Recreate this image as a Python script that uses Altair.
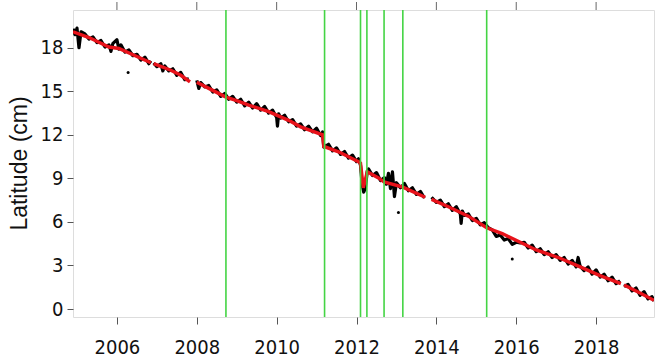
import altair as alt
import pandas as pd

# ---------------- data ----------------
# red smoothed curve (year, cm)
red_year = [2004.9, 2005.3, 2005.8, 2006.05, 2006.5, 2006.85,
            2006.92, 2007.35, 2007.6, 2007.83,
            2008.0, 2008.3, 2008.73, 2009.0, 2009.3, 2009.8, 2010.3, 2010.6, 2011.15, 2011.18,
            2011.55, 2012.05, 2012.1, 2012.17, 2012.27, 2012.55, 2012.69, 2013.16, 2013.72,
            2013.88, 2014.3, 2014.8, 2015.26, 2015.65, 2016.1, 2016.5, 2017.1, 2017.6, 2018.1, 2018.62,
            2018.7, 2019.1, 2019.45]
red_val = [19.1, 18.7, 18.05, 17.95, 17.4, 16.97,
           16.9, 16.45, 16.1, 15.65,
           15.62, 15.2, 14.6, 14.35, 14.05, 13.6, 13.0, 12.55, 12.0, 11.2,
           10.83, 10.14, 10.05, 8.35, 9.45, 9.03, 8.75, 8.4, 7.7,
           7.55, 7.05, 6.4, 5.6, 5.2, 4.6, 4.07, 3.5, 2.9, 2.3, 1.75,
           1.65, 1.1, 0.6]

# black observations (year, cm)
black_year = [
    2004.90, 2004.95, 2005.00, 2005.05, 2005.10, 2005.20, 2005.30, 2005.40, 2005.50, 2005.60,
    2005.70, 2005.80, 2005.85, 2005.90, 2006.00, 2006.05, 2006.10, 2006.20, 2006.30, 2006.40,
    2006.50, 2006.60, 2006.70, 2006.80, 2006.85,
    2006.92, 2007.00, 2007.10, 2007.15, 2007.20, 2007.30, 2007.40, 2007.50, 2007.60, 2007.70,
    2007.80,
    2008.00, 2008.05, 2008.10, 2008.20, 2008.30, 2008.40, 2008.50, 2008.60, 2008.70, 2008.80,
    2008.90, 2009.00, 2009.10, 2009.20, 2009.30, 2009.40, 2009.50, 2009.60, 2009.70, 2009.80,
    2009.90, 2010.00, 2010.02, 2010.05, 2010.10, 2010.20, 2010.30, 2010.40, 2010.50, 2010.60,
    2010.70, 2010.80, 2010.90, 2011.00, 2011.10, 2011.15, 2011.18, 2011.30, 2011.40, 2011.50,
    2011.60, 2011.70, 2011.80, 2011.90, 2012.00, 2012.05, 2012.10, 2012.14, 2012.18, 2012.22,
    2012.27, 2012.30, 2012.40, 2012.50, 2012.60, 2012.70, 2012.75, 2012.80, 2012.85, 2012.90,
    2012.95, 2013.00, 2013.10, 2013.20, 2013.30, 2013.40, 2013.50, 2013.60, 2013.70,
    2013.88, 2014.00, 2014.10, 2014.20, 2014.30, 2014.40, 2014.50, 2014.60, 2014.62, 2014.65,
    2014.70, 2014.80, 2014.90, 2015.00, 2015.10, 2015.20, 2015.30, 2015.40, 2015.50, 2015.60,
    2015.70, 2015.80, 2015.90, 2016.00, 2016.10, 2016.20, 2016.30, 2016.40, 2016.50, 2016.60,
    2016.70, 2016.80, 2016.90, 2017.00, 2017.10, 2017.20, 2017.30, 2017.40, 2017.50, 2017.55,
    2017.60, 2017.70, 2017.80, 2017.90, 2018.00, 2018.10, 2018.20, 2018.30, 2018.40, 2018.50,
    2018.60,
    2018.70, 2018.80, 2018.90, 2019.00, 2019.10, 2019.20, 2019.30, 2019.40, 2019.45]
black_val = [
    19.30, 18.90, 19.35, 18.00, 19.10, 18.95, 18.60, 18.75, 18.35, 18.50,
    18.05, 18.20, 17.75, 18.30, 18.55, 17.90, 18.20, 17.70, 17.85, 17.45,
    17.55, 17.15, 17.35, 16.90, 17.10,
    16.95, 16.70, 16.90, 16.40, 16.75, 16.40, 16.55, 16.10, 16.30, 15.80,
    15.85,
    15.75, 15.20, 15.60, 15.30, 15.40, 14.95, 15.10, 14.65, 14.85, 14.45,
    14.65, 14.25, 14.45, 14.00, 14.25, 13.85, 14.15, 13.70, 13.95, 13.50,
    13.70, 13.20, 12.60, 13.45, 13.15, 13.35, 12.90, 13.05, 12.60, 12.75,
    12.35, 12.60, 12.20, 12.45, 11.95, 12.20, 11.15, 11.35, 10.90, 11.10,
    10.65, 10.85, 10.40, 10.60, 10.15, 10.35, 9.90, 8.60, 8.05, 8.30,
    9.50, 9.65, 9.20, 9.40, 8.85, 9.05, 8.60, 9.35, 8.30, 9.45,
    7.75, 8.70, 8.35, 8.65, 8.15, 8.35, 7.90, 8.10, 7.65,
    7.70, 7.35, 7.50, 7.05, 7.25, 6.80, 7.05, 6.55, 5.90, 6.75,
    6.45, 6.55, 6.10, 6.25, 5.80, 5.95, 5.60, 5.45, 5.00, 5.10,
    4.75, 4.85, 4.45, 4.60, 4.55, 4.60, 4.20, 4.40, 3.95, 4.15,
    3.75, 3.95, 3.55, 3.75, 3.35, 3.55, 3.10, 3.35, 2.90, 3.55,
    2.95, 2.65, 2.90, 2.40, 2.70, 2.20, 2.40, 1.95, 2.20, 1.75,
    1.95,
    1.55, 1.70, 1.25, 1.45, 0.95, 1.20, 0.70, 0.85, 0.55]

# start years of the data segments (gaps in the record)
segment_starts = [2004.9, 2006.9, 2007.9, 2013.8, 2018.65]

# isolated outliers
dot_year = [2006.28, 2013.05, 2015.90]
dot_val = [16.3, 6.65, 3.45]

# vertical event lines
event_year = [2008.73, 2011.20, 2012.10, 2012.26, 2012.69, 2013.16, 2015.26]

x_ticks = [2006, 2008, 2010, 2012, 2014, 2016, 2018]
y_ticks = [0, 3, 6, 9, 12, 15, 18]


def seg_of(y):
    s = 0
    for i, st in enumerate(segment_starts):
        if y >= st:
            s = i
    return s


# ---------------- chart ----------------
red_df = pd.DataFrame({"year": red_year, "val": red_val})
red_df["seg"] = red_df["year"].map(seg_of)
black_df = pd.DataFrame({"year": black_year, "val": black_val})
black_df["seg"] = black_df["year"].map(seg_of)
dot_df = pd.DataFrame({"year": dot_year, "val": dot_val})
ev_df = pd.DataFrame({"year": event_year})
tick_df = pd.DataFrame({"year": x_ticks})

XDOM = [2004.9, 2019.45]
YDOM = [-0.55, 20.6]
LABEL_FONT = "'Liberation Sans Narrow', 'DejaVu Sans Condensed', 'Liberation Sans', sans-serif"

xscale = alt.Scale(domain=XDOM, nice=False, zero=False)
yscale = alt.Scale(domain=YDOM, nice=False, zero=False)

x_bottom = alt.X("year:Q", scale=xscale, title=None,
                 axis=alt.Axis(orient="bottom", values=x_ticks, format="d", grid=False, domain=False,
                               tickSize=7, tickColor="#555555", tickWidth=1,
                               labelFont=LABEL_FONT, labelFontSize=20, labelColor="#111111",
                               labelPadding=13))
y_axis = alt.Y("val:Q", scale=yscale,
               axis=alt.Axis(values=y_ticks, grid=False, domain=False, tickSize=6,
                             tickColor="#555555", labelFont=LABEL_FONT, labelFontSize=20,
                             labelColor="#111111", labelPadding=4,
                             title="Latitude (cm)", titleFont="Liberation Sans",
                             titleFontSize=23, titleFontWeight="normal", titleColor="#111111",
                             titleX=-47, titleY=153, titleAngle=270, titleAlign="center",
                             titleBaseline="alphabetic"))

x_plain = alt.X("year:Q", scale=xscale)
y_plain = alt.Y("val:Q", scale=yscale)

black = alt.Chart(black_df).mark_line(color="black", strokeWidth=3.2, clip=True,
                                      strokeJoin="round").encode(
    x=x_bottom, y=y_axis, detail="seg:N", order="year:Q")

dots = alt.Chart(dot_df).mark_circle(color="black", size=9, opacity=1, clip=True).encode(
    x=x_plain, y=y_plain)

red = alt.Chart(red_df).mark_line(color="#e8121a", strokeWidth=3.4, clip=True).encode(
    x=x_plain, y=y_plain, detail="seg:N", order="year:Q")

events = alt.Chart(ev_df).mark_rule(color="#44d444", strokeWidth=1.6).encode(x=x_plain)

# tick marks on the top edge of the frame
top_ticks = alt.Chart(tick_df).mark_rule(color="#666666", strokeWidth=1).encode(
    x=x_plain, y=alt.value(-8), y2=alt.value(0))

chart = alt.layer(black, dots, red, events, top_ticks).properties(
    width=581, height=307,
    autosize=alt.AutoSizeParams(type="none"),
    padding={"left": 73, "top": 10, "right": 1, "bottom": 46},
).configure_view(stroke="black", strokeWidth=2.2).configure(background="white")

chart.save("out.html", embed_options={"renderer": "svg", "actions": False})
